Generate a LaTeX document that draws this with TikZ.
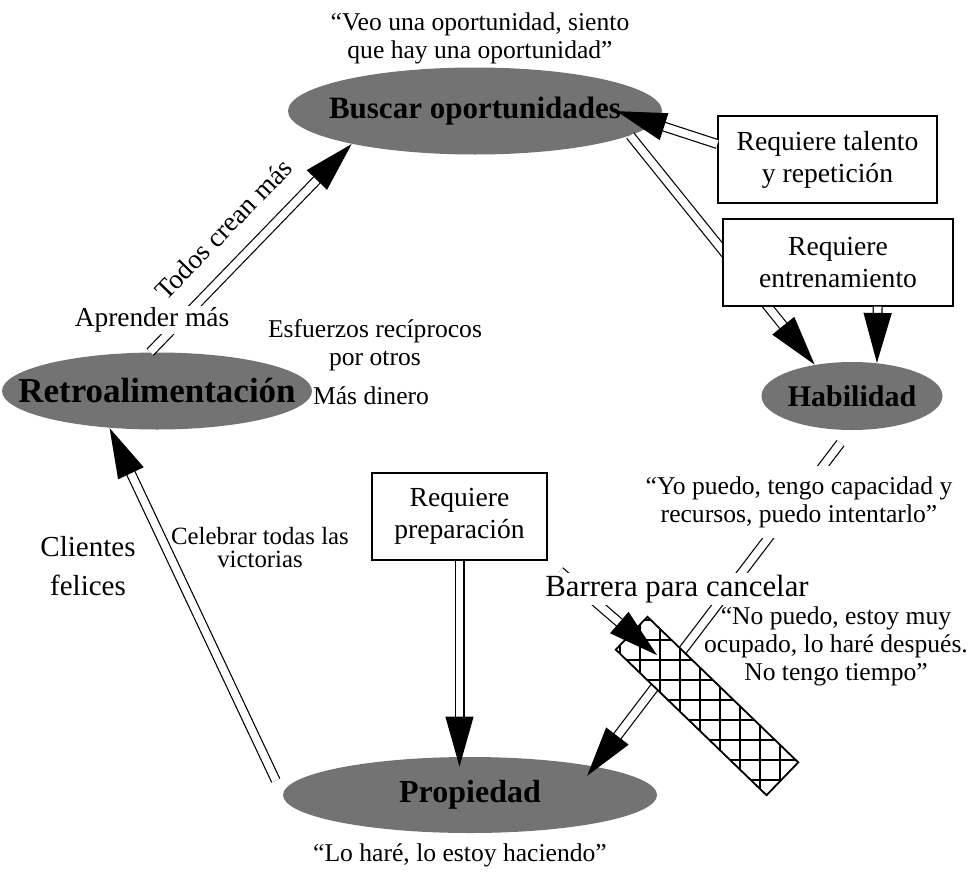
\documentclass[tikz,border=0pt]{standalone}
\usepackage{fontspec}
\setmainfont{Liberation Serif}
\usetikzlibrary{positioning}
\usetikzlibrary{arrows.meta,shapes}
\usetikzlibrary{calc}
\tikzstyle{blob}=[ellipse,fill=black!55,inner sep=0pt]
\tikzstyle{rbox}=[rectangle,draw,fill=white,line width=0.6pt,align=center,inner sep=0pt,font=\fontsize{13.8}{16}\selectfont]
\tikzstyle{saying}=[align=center,inner sep=1pt,font=\fontsize{12.8}{14}\selectfont]
\tikzstyle{bigtext}=[align=center,inner sep=1pt,font=\fontsize{14.5}{19.5}\selectfont]
\tikzstyle{edge} = [draw,line width=0.6pt,double,double distance=3.8pt,-{Triangle[length=25pt,width=14pt]}]
\tikzstyle{weight} = [font=\fontsize{13.7}{15}\selectfont]

\begin{document}
\begin{tikzpicture}[x=0.5pt,y=-0.5pt]
  \useasboundingbox (0,0) rectangle (970,873);

    \foreach \pos/\name/\w/\h/\fs/\txt in {{(475,111)/buscar/187pt/43.5pt/15.5/Buscar oportunidades}, {(157,391)/retro/155pt/38.5pt/17.5/Retroalimentación}, {(852,396)/habil/90.5pt/34pt/15/Habilidad}, {(470,795)/prop/187pt/38pt/16/Propiedad}}
        \node[blob,minimum width=\w,minimum height=\h,label={[font=\fontsize{\fs}{18}\selectfont\bfseries]center:\txt}] (\name) at \pos {};

    % lineas que pasan por detras
    \path[edge] (retro.100) -- node[weight,sloped,above=8pt,pos=0.48] {Todos crean más} (buscar.195);
    \foreach \source/\dest/\sa/\sb in {buscar.-9/habil.140/0pt/0pt, habil.-93/prop.13/8pt/-6pt, prop.west/retro.218/8pt/0pt}
            \path[edge,shorten <=\sa,shorten >=\sb] (\source) -- (\dest);

    \node[draw,fill=white,line width=0.6pt,rotate=-44,minimum width=104.5pt,minimum height=22.5pt,inner sep=0pt] (barrera) at (707,706) {};
    \begin{scope}
      \clip (barrera.north west) -- (barrera.north east) -- (barrera.south east) -- (barrera.south west) -- cycle;
      \draw[line width=1.1pt,step=10pt] (600,600) grid (820,820);
    \end{scope}
    \draw[line width=0.6pt] (barrera.north west) -- (barrera.north east) -- (barrera.south east) -- (barrera.south west) -- cycle;

    \foreach \pos/\name/\w/\h/\txt in {{(827.5,159.5)/talento/109.5pt/43.5pt/Requiere talento\\y repetición}, {(838,262.5)/entren/115pt/43.5pt/Requiere\\entrenamiento}, {(459.5,516.5)/prep/87.5pt/43.5pt/Requiere\\preparación}}
        \node[rbox,minimum width=\w,minimum height=\h] (\name) at \pos {\txt};

    \path[edge,shorten <=8pt,shorten >=-17pt] (prep.south east) -- (barrera.west);

    \node[weight,fill=white,inner sep=1pt] (aprender) at (152,320) {Aprender más};
    \node[saying,fill=white,inner sep=5pt] (yopuedo) at (799,502) {“Yo puedo, tengo capacidad y\\recursos, puedo intentarlo”};
    \node[bigtext,fill=white,font=\fontsize{15.4}{18}\selectfont] (barreratxt) at (677,589) {Barrera para cancelar};

    \path[edge,shorten >=-20pt] (talento.172) -- (buscar.-4);
    \path[edge] (entren.-48) -- (habil.53);
    \path[edge,shorten >=-5pt] (prep.south) -- (prep.south |- prop.north);

    \node[saying] (veo) at (480,38) {“Veo una oportunidad, siento\\que hay una oportunidad”};
    \node[saying] (esfuerzos) at (375,345) {Esfuerzos recíprocos\\por otros};
    \node[saying] (dinero) at (371,396) {Más dinero};
    \node[bigtext] (clientes) at (88,566) {Clientes\\felices};
    \node[saying,font=\fontsize{12.4}{11.5}\selectfont] (celebrar) at (260,548) {Celebrar todas las\\victorias};
    \node[saying] (nopuedo) at (836,646) {“No puedo, estoy muy\\ocupado, lo haré después.\\No tengo tiempo”};
    \node[saying] (lohare) at (460,855) {“Lo haré, lo estoy haciendo”};

\end{tikzpicture}
\end{document}
